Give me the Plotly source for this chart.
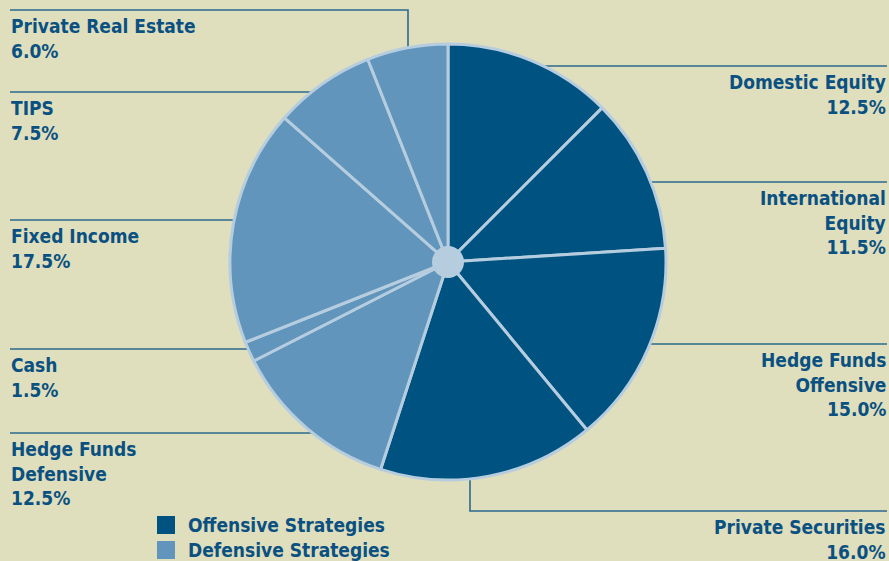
import math
import plotly.graph_objects as go

# ---- data ----
categories = ["Domestic Equity", "International Equity", "Hedge Funds Offensive",
              "Private Securities", "Hedge Funds Defensive", "Cash", "Fixed Income",
              "TIPS", "Private Real Estate"]
values = [12.5, 11.5, 15.0, 16.0, 12.5, 1.5, 17.5, 7.5, 6.0]
groups = ["Offensive", "Offensive", "Offensive", "Offensive", "Defensive",
          "Defensive", "Defensive", "Defensive", "Defensive"]
label_text = ["Domestic Equity", "International<br>Equity", "Hedge Funds<br>Offensive",
              "Private Securities", "Hedge Funds<br>Defensive", "Cash", "Fixed Income",
              "TIPS", "Private Real Estate"]
legend_names = ["Offensive Strategies", "Defensive Strategies"]

# ---- style ----
W, H = 889, 561
BG = "#dfdebd"
DARK = "#005380"
LIGHT = "#6195bb"
EDGE = "#b6cde0"
TEXT = "#0a5181"
LINE = "#2b6a8f"
FONT = "Liberation Sans Narrow, Arial Narrow, DejaVu Sans Condensed, sans-serif"
FS = 19
color_map = {"Offensive": DARK, "Defensive": LIGHT}

cx, cy, R = 448, 262, 218  # pixel geometry of the pie

def px(x):
    return x / W

def py(y):
    return 1 - y / H

fig = go.Figure()
fig.add_trace(go.Pie(
    labels=categories, values=values, sort=False, direction="clockwise", rotation=0,
    marker=dict(colors=[color_map[g] for g in groups], line=dict(color=EDGE, width=3)),
    textinfo="none", hoverinfo="label+percent", showlegend=False,
    domain=dict(x=[px(cx - R), px(cx + R)], y=[py(cy + R), py(cy - R)]),
))

shapes = []
annotations = []

# label layout: (side, line y px, elbow x px or None)
layout_pos = {
    "Domestic Equity": ("right", 66, None),
    "International Equity": ("right", 182, None),
    "Hedge Funds Offensive": ("right", 344, None),
    "Private Securities": ("right", 511, 470),
    "Hedge Funds Defensive": ("left", 433, None),
    "Cash": ("left", 349, None),
    "Fixed Income": ("left", 220, None),
    "TIPS": ("left", 92, None),
    "Private Real Estate": ("left", 10, 408),
}
LEFT_X, RIGHT_X = 10, 887

for cat, txt, val in zip(categories, label_text, values):
    side, ly, elbow = layout_pos[cat]
    outer = LEFT_X if side == "left" else RIGHT_X
    if elbow is None:
        dx = math.sqrt(R * R - (ly - cy) ** 2)
        ex = cx - dx if side == "left" else cx + dx
        path = f"M {px(outer)} {py(ly)} L {px(ex)} {py(ly)}"
    else:
        dy = math.sqrt(R * R - (elbow - cx) ** 2)
        ey = cy - dy if ly < cy else cy + dy
        path = (f"M {px(outer)} {py(ly)} L {px(elbow)} {py(ly)} "
                f"L {px(elbow)} {py(ey)}")
    shapes.append(dict(type="path", path=path, xref="paper", yref="paper",
                       line=dict(color=LINE, width=1.6), layer="below"))
    annotations.append(dict(
        text=f"{txt}<br>{val:.1f}%", xref="paper", yref="paper",
        x=px(LEFT_X - 1 if side == "left" else RIGHT_X + 1), y=py(ly + 3),
        xanchor="left" if side == "left" else "right", yanchor="top",
        align="left" if side == "left" else "right", showarrow=False,
        font=dict(family=FONT, size=FS, color=TEXT, weight="bold"),
    ))

# center hub
hub = 16
shapes.append(dict(type="circle", xref="paper", yref="paper",
                   x0=px(cx - hub), x1=px(cx + hub), y0=py(cy + hub), y1=py(cy - hub),
                   fillcolor=EDGE, line=dict(width=0), layer="above"))

# legend
for i, (name, col) in enumerate(zip(legend_names, [DARK, LIGHT])):
    top = 516 + i * 25
    shapes.append(dict(type="rect", xref="paper", yref="paper",
                       x0=px(157), x1=px(175), y0=py(top + 18), y1=py(top),
                       fillcolor=col, line=dict(width=0)))
    annotations.append(dict(
        text=name, xref="paper", yref="paper", x=px(186), y=py(top + 9),
        xanchor="left", yanchor="middle", showarrow=False,
        font=dict(family=FONT, size=FS, color=TEXT, weight="bold"),
    ))

fig.update_layout(
    width=W, height=H, margin=dict(l=0, r=0, t=0, b=0),
    paper_bgcolor=BG, plot_bgcolor=BG,
    shapes=shapes, annotations=annotations, showlegend=False,
)
fig.write_html("out.html")
